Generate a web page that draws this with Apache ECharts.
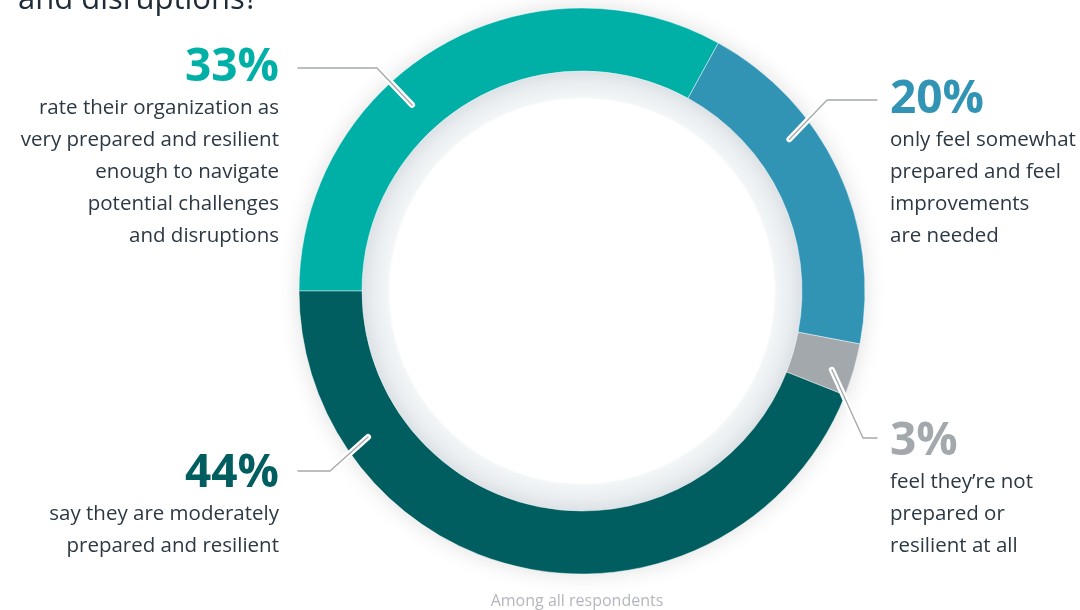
<!DOCTYPE html>
<html>
<head>
<meta charset="utf-8">
<script src="https://cdn.jsdelivr.net/npm/echarts@6/dist/echarts.min.js"></script>
<style>
  html, body { margin: 0; padding: 0; background: #ffffff; }
  #chart { width: 1080px; height: 610px; }
</style>
</head>
<body>
<div id="chart"></div>
<script>
// ---- data ----
const categories = ['Very prepared and resilient', 'Somewhat prepared', 'Not prepared', 'Moderately prepared'];
const values = [33, 20, 3, 44];
const percentLabels = ['33%', '20%', '3%', '44%'];
const descriptions = [
  ['rate their organization as', 'very prepared and resilient', 'enough to navigate', 'potential challenges', 'and disruptions'],
  ['only feel somewhat', 'prepared and feel', 'improvements', 'are needed'],
  ['feel they\u2019re not', 'prepared or', 'resilient at all'],
  ['say they are moderately', 'prepared and resilient']
];
const titleTail = 'and disruptions?';
const footnote = 'Among all respondents';

// ---- styles / layout ----
const colors = ['#00b0a7', '#3194b5', '#a3a8ac', '#005e60'];
const FONT = '"Open Sans", "Noto Sans", sans-serif';
const center = [582, 291];
const ringRadius = [220, 283];
// annotation layout: label anchor, elbow and where the line points on the ring (angle clockwise from 12 o'clock)
const labelLayouts = [
  { x: 279, y: 44, align: 'right', elbow: [377, 68], lineEnd: 298, angle: 317.6, r: 252 },
  { x: 890, y: 76, align: 'left', elbow: [827, 100], lineEnd: 877, angle: 53.8, r: 257 },
  { x: 890, y: 418, align: 'left', elbow: [863, 438], lineEnd: 877, angle: 107.5, r: 262 },
  { x: 279, y: 450, align: 'right', elbow: [330, 471], lineEnd: 298, angle: 235.7, r: 259 }
];

function anchorPoint(l) {
  const a = l.angle * Math.PI / 180;
  return [center[0] + l.r * Math.sin(a), center[1] - l.r * Math.cos(a)];
}
function layoutFn(params) {
  const l = labelLayouts[params.dataIndex];
  return {
    x: l.x, y: l.y, align: l.align, verticalAlign: 'top',
    labelLinePoints: [[l.lineEnd, l.elbow[1]], l.elbow, anchorPoint(l)]
  };
}

function makeRich(visible) {
  const rich = {};
  colors.forEach((c, i) => {
    rich['p' + i] = { fontFamily: FONT, fontWeight: 'bold', fontSize: 46, lineHeight: 48, color: visible ? c : 'rgba(0,0,0,0)' };
  });
  rich.d = { fontFamily: FONT, fontSize: 20.5, lineHeight: 32, color: visible ? '#2c3844' : 'rgba(0,0,0,0)' };
  return rich;
}
function labelText(i) {
  return '{p' + i + '|' + percentLabels[i] + '}\n' + descriptions[i].map(t => '{d|' + t + '}').join('\n');
}

const mainData = categories.map((name, i) => ({
  name: name, value: values[i],
  itemStyle: { color: colors[i] }
}));
const overlayData = categories.map((name, i) => ({
  name: name, value: values[i],
  label: { formatter: labelText(i) }
}));

const chart = echarts.init(document.getElementById('chart'), null, { renderer: 'canvas' });
chart.setOption({
  animation: false,
  backgroundColor: '#ffffff',
  graphic: [
    { type: 'text', x: 18, y: 0, style: { text: titleTail, fontFamily: FONT, fontSize: 31, fill: '#1f2b36', textAlign: 'left', textVerticalAlign: 'middle' } },
    { type: 'text', x: 577, y: 601, style: { text: footnote, fontFamily: FONT, fontSize: 16, fill: '#b3b7bb', textAlign: 'center', textVerticalAlign: 'middle' } }
  ],
  series: [
    {
      type: 'pie', silent: true, z: 1, center: center, radius: ringRadius,
      label: { show: false }, labelLine: { show: false },
      itemStyle: { color: '#ffffff', shadowBlur: 22, shadowColor: 'rgba(0,0,0,0.13)' },
      data: [{ value: 1 }]
    },
    {
      type: 'pie', silent: true, z: 1, center: center, radius: [0, ringRadius[0]],
      label: { show: false }, labelLine: { show: false },
      itemStyle: {
        color: {
          type: 'radial', x: 0.5, y: 0.5, r: 0.5,
          colorStops: [
            { offset: 0, color: '#ffffff' },
            { offset: 0.872, color: '#ffffff' },
            { offset: 0.882, color: '#f3f6f7' },
            { offset: 0.95, color: '#e9edf0' },
            { offset: 1, color: '#dce1e5' }
          ]
        }
      },
      data: [{ value: 1 }]
    },
    {
      type: 'pie', silent: true, z: 2, center: center, radius: ringRadius,
      startAngle: 180, clockwise: true,
      itemStyle: { borderColor: 'rgba(255,255,255,0.55)', borderWidth: 0.8 },
      label: { show: false }, labelLine: { show: false },
      data: mainData
    },
    {
      type: 'pie', silent: true, z: 3, center: center, radius: ringRadius,
      startAngle: 180, clockwise: true, avoidLabelOverlap: false,
      itemStyle: { color: 'rgba(0,0,0,0)' },
      label: { show: true, position: 'outside', rich: makeRich(false) },
      labelLine: { show: true, lineStyle: { color: '#ffffff', width: 6, cap: 'round', join: 'round' } },
      labelLayout: layoutFn,
      data: overlayData
    },
    {
      type: 'pie', silent: true, z: 4, center: center, radius: ringRadius,
      startAngle: 180, clockwise: true, avoidLabelOverlap: false,
      itemStyle: { color: 'rgba(0,0,0,0)' },
      label: { show: true, position: 'outside', rich: makeRich(true) },
      labelLine: { show: true, lineStyle: { color: '#a6aaae', width: 1.4, cap: 'round', join: 'round' } },
      labelLayout: layoutFn,
      data: overlayData
    }
  ]
});
</script>
</body>
</html>
